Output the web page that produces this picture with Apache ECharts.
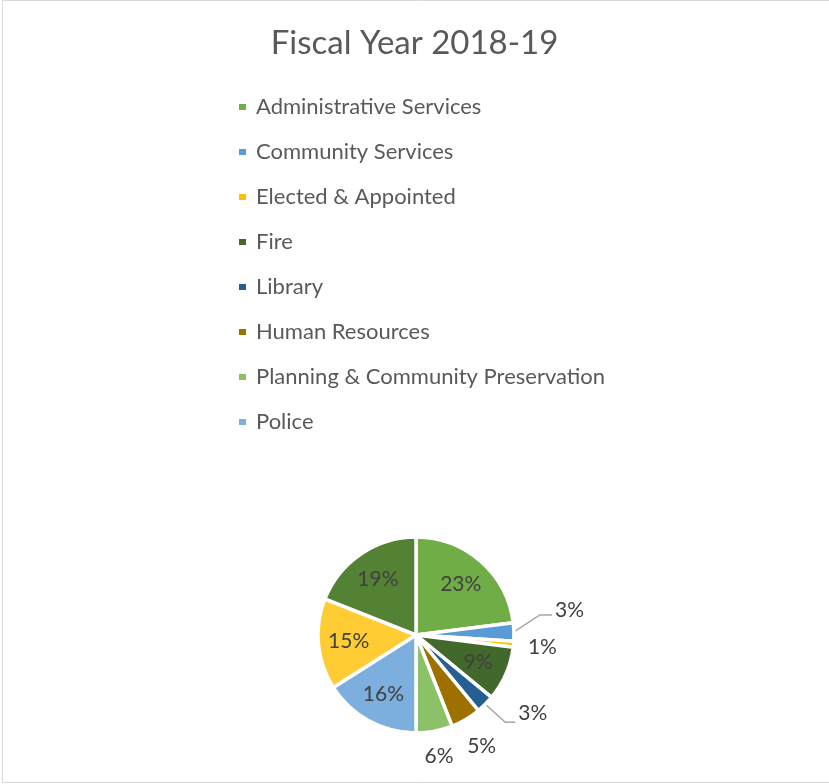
<!DOCTYPE html>
<html>
<head>
<meta charset="utf-8">
<script src="https://cdn.jsdelivr.net/npm/echarts@6/dist/echarts.min.js"></script>
<style>
  html, body { margin: 0; padding: 0; background: #ffffff; }
  #chart { width: 829px; height: 784px; }
</style>
</head>
<body>
<div id="chart"></div>
<script>
// Budget share by department, fiscal year 2018-19 (percent)
const titleText = 'Fiscal Year 2018-19';
const departments = [
  'Administrative Services',
  'Community Services',
  'Elected & Appointed',
  'Fire',
  'Library',
  'Human Resources',
  'Planning & Community Preservation',
  'Police',
  'Public Works',
  'Non-Departmental'
];
const shares = [23, 3, 1, 9, 3, 5, 6, 16, 15, 19];
const sliceColors = [
  '#70AD47', '#5B9BD5', '#FFC000', '#43682B', '#255E91',
  '#9E7000', '#8CC168', '#7CAFDD', '#FFCD33', '#548235'
];
// legend lists the first eight departments only
const legendNames = departments.slice(0, 8);

const FONT = 'Lato, "Open Sans", sans-serif';
const center = [416, 635];
const R = 98;

// labels placed outside the pie; some get a bent leader line
// (bend = offset of the elbow from the slice edge, run = horizontal tail, lift = label above tail end)
const outsideLabels = {
  1: { bend: [26, -17], run: 12, lift: 5 },
  2: { radius: R + 29 },
  4: { bend: [20, 18], run: 10, lift: 9 },
  5: { radius: R + 31 },
  6: { radius: R + 25 }
};

const total = shares.reduce((a, b) => a + b, 0);
// mid-angle direction of each slice (start at 12 o'clock, clockwise)
const midDirs = (() => {
  let cum = 0;
  return shares.map(v => {
    const t = 2 * Math.PI * (cum + v / 2) / total;
    cum += v;
    return [Math.sin(t), -Math.cos(t)];
  });
})();

const sliceData = departments.map((name, i) => {
  const cfg = outsideLabels[i];
  return {
    name: name,
    value: shares[i],
    itemStyle: { color: sliceColors[i] },
    label: { show: !!cfg, position: 'outside' },
    labelLine: { show: !!(cfg && cfg.bend) }
  };
});

// invisible wider ring carries the inside labels further out from the centre
const insideLabelData = departments.map((name, i) => ({
  name: name,
  value: shares[i],
  itemStyle: { color: 'rgba(0,0,0,0)' },
  label: { show: !outsideLabels[i] }
}));

function placeOutsideLabel(params) {
  const cfg = outsideLabels[params.dataIndex];
  if (!cfg) return { hideOverlap: false };
  const d = midDirs[params.dataIndex];
  if (cfg.bend) {
    const p0 = [center[0] + d[0] * R, center[1] + d[1] * R];
    const p1 = [p0[0] + cfg.bend[0], p0[1] + cfg.bend[1]];
    const p2 = [p1[0] + cfg.run, p1[1]];
    return {
      x: p2[0] + 3, y: p2[1] - cfg.lift,
      align: 'left', verticalAlign: 'middle',
      hideOverlap: false,
      labelLinePoints: [p0, p1, p2]
    };
  }
  return {
    x: center[0] + d[0] * cfg.radius,
    y: center[1] + d[1] * cfg.radius,
    align: 'center', verticalAlign: 'middle',
    hideOverlap: false
  };
}

const chart = echarts.init(document.getElementById('chart'), null, { renderer: 'canvas' });
chart.setOption({
  backgroundColor: '#ffffff',
  animation: false,
  title: {
    text: titleText,
    left: 'center',
    top: 22,
    textStyle: { fontFamily: FONT, fontSize: 33, fontWeight: 'normal', color: '#595959' }
  },
  legend: {
    orient: 'vertical',
    left: 237,
    top: 94,
    padding: 0,
    data: legendNames,
    icon: 'rect',
    itemWidth: 9,
    itemHeight: 8,
    itemGap: 19,
    selectedMode: false,
    textStyle: {
      fontFamily: FONT, fontSize: 22, color: '#595959',
      lineHeight: 26, padding: [0, 0, 0, 4]
    }
  },
  graphic: [{
    type: 'rect',
    silent: true,
    shape: { x: 2.5, y: 0.5, width: 830, height: 782 },
    style: { fill: 'none', stroke: '#D9D9D9', lineWidth: 1 }
  }],
  series: [
    {
      type: 'pie',
      center: center,
      radius: [0, R],
      startAngle: 90,
      clockwise: true,
      legendHoverLink: false,
      avoidLabelOverlap: false,
      label: {
        fontFamily: FONT, fontSize: 21, color: '#404040',
        formatter: p => p.value + '%'
      },
      labelLine: {
        length: 14, length2: 12,
        lineStyle: { color: '#A6A6A6', width: 1.5 }
      },
      labelLayout: placeOutsideLabel,
      itemStyle: { borderColor: '#ffffff', borderWidth: 3.5 },
      emphasis: { disabled: true },
      data: sliceData
    },
    {
      type: 'pie',
      center: center,
      radius: [0, R * 1.32],
      startAngle: 90,
      clockwise: true,
      silent: true,
      legendHoverLink: false,
      label: {
        position: 'inside',
        fontFamily: FONT, fontSize: 21, color: '#404040',
        formatter: p => p.value + '%'
      },
      labelLine: { show: false },
      emphasis: { disabled: true },
      data: insideLabelData
    }
  ]
});
</script>
</body>
</html>
